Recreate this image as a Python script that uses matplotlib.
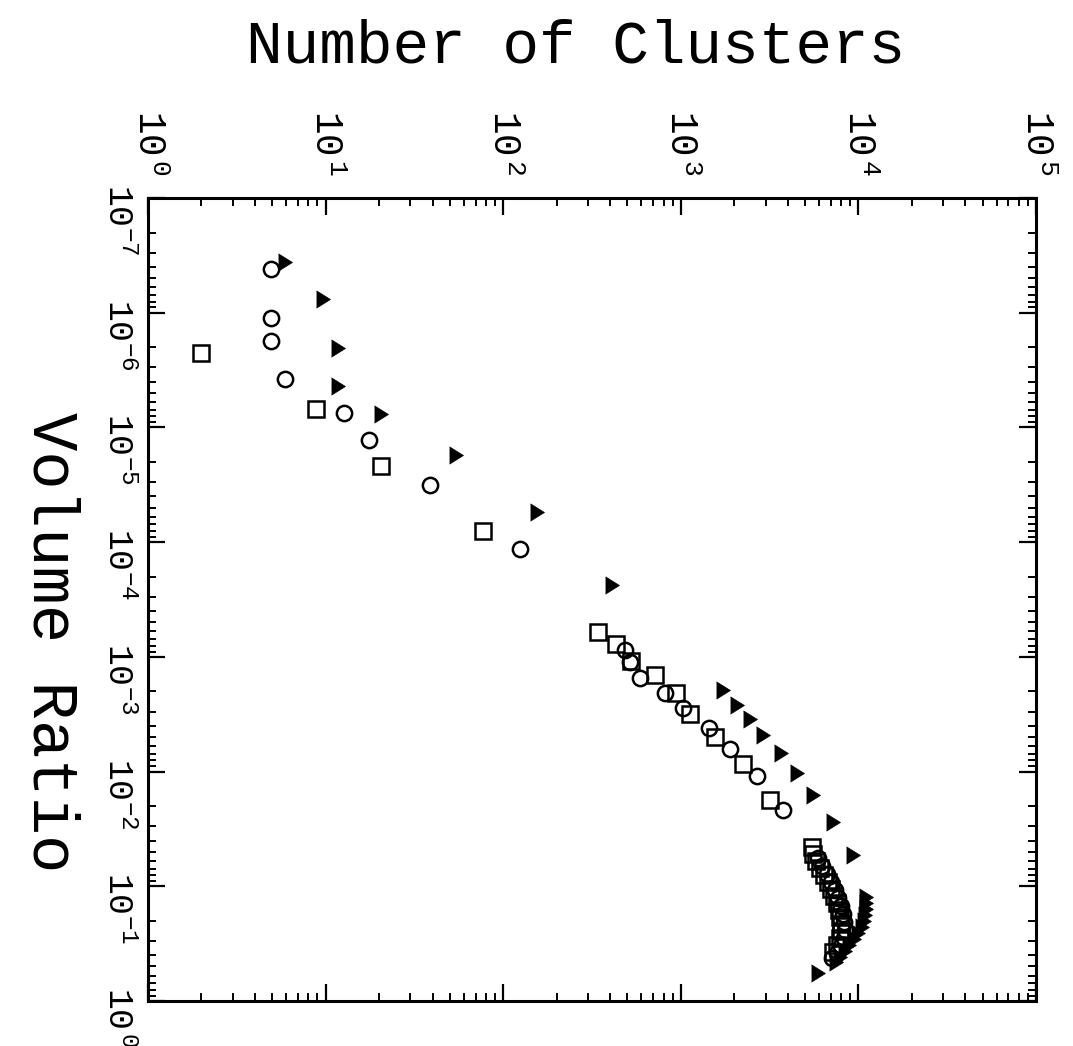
import numpy as np
import matplotlib
matplotlib.use('Agg')
import matplotlib.pyplot as plt
from matplotlib.ticker import LogLocator, FuncFormatter, NullFormatter
from matplotlib.transforms import ScaledTranslation

plt.rcParams['font.family'] = ['Liberation Mono', 'DejaVu Sans']
plt.rcParams['mathtext.default'] = 'regular'

# number of clusters (x, top axis) vs volume ratio (y, left axis, downward)
tri_n = [5.9, 9.7, 11.7, 11.7, 20.5, 54, 155, 410, 1730, 2070, 2450, 2900, 3670, 4510, 5550, 7200, 9330,
         11040, 11040, 11040, 10900, 10760, 10480, 9950, 9450, 8850, 8400, 7880, 7480, 5930]
tri_v = [3.6e-7, 7.6e-7, 2.03e-6, 4.35e-6, 7.6e-6, 1.74e-5, 5.5e-5, 2.37e-4, 1.95e-3, 2.63e-3, 3.48e-3,
         4.8e-3, 6.9e-3, 1.03e-2, 1.6e-2, 2.75e-2, 5.3e-2,
         0.124, 0.140, 0.158, 0.178, 0.201, 0.227, 0.256, 0.288, 0.326, 0.367, 0.414, 0.458, 0.571]

circ_n = [4.93, 4.93, 4.93, 5.9, 12.7, 17.6, 38.7, 124, 485, 518, 589, 815, 1030, 1440, 1890, 2690, 3760,
          5930, 6240, 6660, 7010, 7380, 7680, 7980, 8190, 8300, 8410, 8300, 7980, 7580, 7100]
circ_v = [4.16e-7, 1.11e-6, 1.77e-6, 3.8e-6, 7.5e-6, 1.29e-5, 3.18e-5, 1.15e-4, 8.7e-4, 1.11e-3, 1.53e-3,
          2.07e-3, 2.79e-3, 4.18e-3, 6.37e-3, 1.09e-2, 2.17e-2,
          0.0568, 0.0667, 0.0783, 0.0918, 0.108, 0.127, 0.149, 0.175, 0.205, 0.241, 0.283, 0.332, 0.382, 0.423]

sq_n = [1.99, 8.83, 20.5, 76.9, 342, 432, 524, 716, 940, 1130, 1560, 2240, 3180,
        5480, 5560, 5770, 6080, 6400, 6740, 7010, 7290, 7580, 7780, 7880, 7980, 7980, 7880, 7580, 7190]
sq_v = [2.24e-6, 6.9e-6, 2.17e-5, 8.0e-5, 6.08e-4, 7.7e-4, 1.09e-3, 1.44e-3, 2.07e-3, 3.16e-3, 5.0e-3,
        8.6e-3, 1.77e-2,
        0.0455, 0.0524, 0.0603, 0.0693, 0.0798, 0.0918, 0.106, 0.122, 0.140, 0.161, 0.186, 0.214,
        0.246, 0.283, 0.326, 0.375]

x_ticks = [1, 10, 100, 1e3, 1e4, 1e5]
y_ticks = [1e-7, 1e-6, 1e-5, 1e-4, 1e-3, 1e-2, 1e-1, 1]


def pow_label(val, pos):
    e = int(round(np.log10(val)))
    if e < 0:
        return r'$\mathregular{10^{%d}}$' % e
    return r'$\mathregular{10^{\,%d}}$' % e


fig = plt.figure(figsize=(10.73, 10.46), dpi=100)
ax = fig.add_axes([148 / 1073, 1 - 1001 / 1046, 888 / 1073, 803 / 1046])

tri_marker = [(-0.8, -1), (0.8, 0), (-0.8, 1)]
ax.plot(sq_n, sq_v, ls='none', marker='s', ms=11, mfc='none', mec='black', mew=1.8)
ax.plot(circ_n, circ_v, ls='none', marker='o', ms=11, mfc='none', mec='black', mew=1.8)
ax.plot(tri_n, tri_v, ls='none', marker=tri_marker, ms=12.5, mfc='black', mec='black', mew=0.5)

ax.set_xscale('log')
ax.set_yscale('log')

ax.set_xticks(x_ticks)
ax.set_yticks(y_ticks)
for axis in (ax.xaxis, ax.yaxis):
    axis.set_minor_locator(LogLocator(base=10, subs=np.arange(2, 10), numticks=20))
    axis.set_major_formatter(FuncFormatter(pow_label))
    axis.set_minor_formatter(NullFormatter())
ax.set_xlim(1, 1e5)
ax.set_ylim(1, 1e-7)

ax.tick_params(which='both', direction='in', top=True, bottom=True, left=True, right=True,
               labeltop=True, labelbottom=False, labelrotation=-90)
ax.tick_params(axis='x', labelsize=27, pad=16)
ax.tick_params(axis='y', labelsize=25, pad=10)
ax.tick_params(which='major', length=12, width=1.6)
ax.tick_params(which='minor', length=6, width=1.4)
for s in ax.spines.values():
    s.set_linewidth(2.2)

# left labels start a little above their tick and run downward
shift = ScaledTranslation(0, 0.14, fig.dpi_scale_trans)
for lab in ax.get_yticklabels():
    lab.set_va('top')
    lab.set_transform(lab.get_transform() + shift)

fig.text(576 / 1073, 1 - 47 / 1046, 'Number of Clusters', fontsize=44, ha='center', va='center')
fig.text(50 / 1073, 1 - 642 / 1046, 'Volume Ratio', fontsize=46, rotation=-90, ha='center', va='center')

fig.savefig('out.png', dpi=100, facecolor='white')
